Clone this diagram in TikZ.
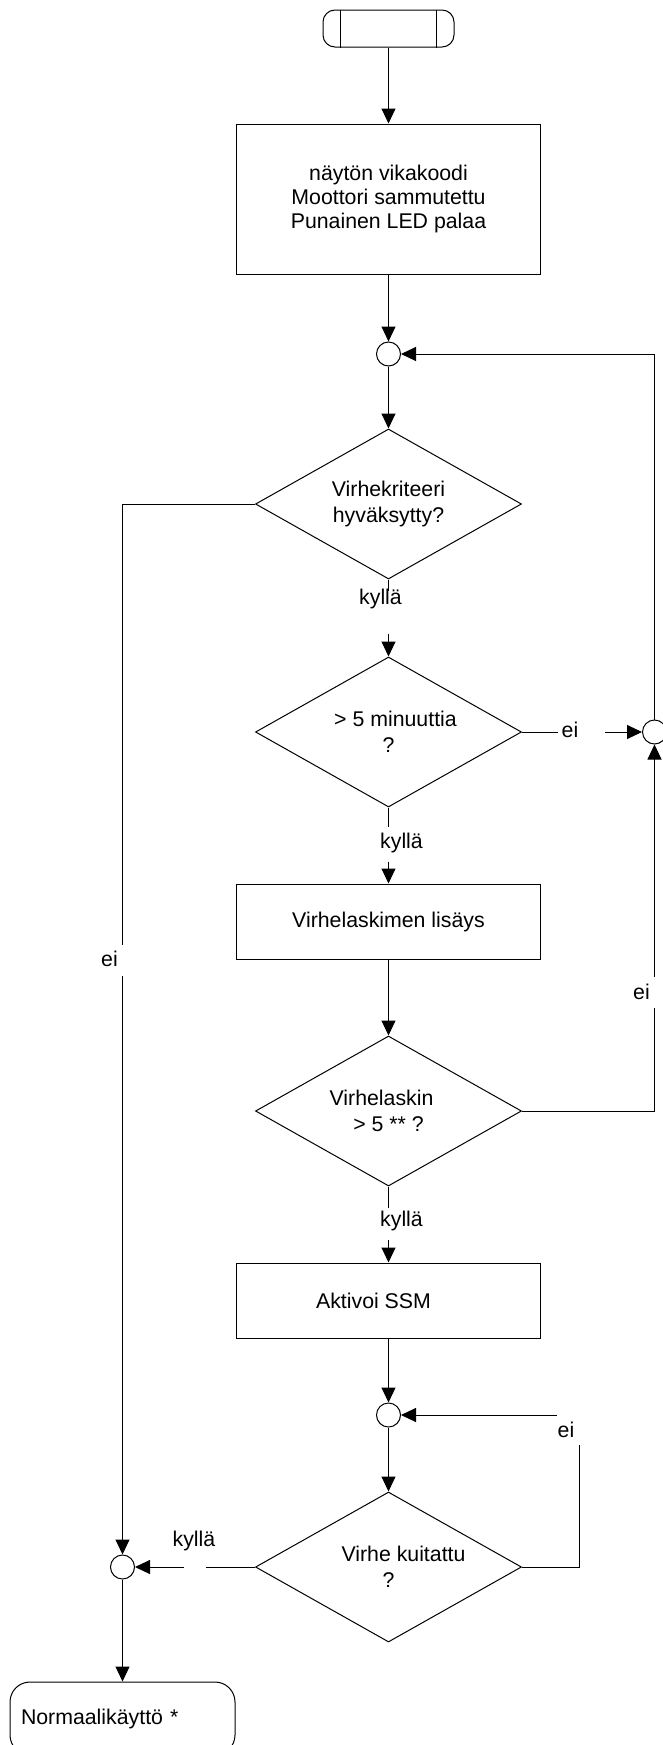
\documentclass[tikz,border=0pt]{standalone}
\usepackage{fontspec}
\setmainfont{Liberation Sans}
\usetikzlibrary{positioning, shapes.geometric, arrows.meta}

\begin{document}
\begin{tikzpicture}[
    line width=0.5pt,
    font=\fontsize{10.65pt}{12pt}\selectfont,
    terminal/.style={
        draw,
        rectangle,
        rounded corners=6pt,
        minimum width=65.5pt,
        minimum height=18.5pt,
        inner sep=0pt
    },
    endterminal/.style={
        draw,
        rectangle,
        rounded corners=10pt,
        minimum width=112.5pt,
        minimum height=36.5pt,
        inner xsep=5.5pt,
        text width=101.5pt,
        align=left
    },
    process/.style={
        draw,
        rectangle,
        minimum width=152pt,
        minimum height=37.5pt,
        align=center
    },
    decision/.style={
        draw,
        diamond,
        aspect=1.77,
        minimum width=133pt,
        minimum height=75pt,
        inner sep=0pt,
        align=center,
        font=\fontsize{10.65pt}{13pt}\selectfont
    },
    junction/.style={
        draw,
        circle,
        minimum size=12pt,
        inner sep=0pt
    },
    lbl/.style={inner sep=0pt},
    arrow/.style={-{Triangle[length=7.5pt, width=7pt]}},
    node distance=38pt
]
\useasboundingbox (0,0) rectangle (331.5pt,-872.5pt);

% Main column
\node[terminal] (start) at (194.25pt,-14.25pt) {};
\node[process, minimum height=75pt, below=of start] (display) {%
    näytön vikakoodi\\
    Moottori sammutettu\\
    Punainen LED palaa
};
\node[junction, below=33.5pt of display] (join1) {};
\node[decision, below=31pt of join1] (criteria) {Virhekriteeri\\hyväksytty?};
\node[decision, below=38.5pt of criteria] (minutes) {\hspace*{7pt}> 5 minuuttia\\?};
\node[process, below=of minutes] (increment) {Virhelaskimen lisäys};
\node[decision, below=of increment] (counter) {Virhelaskin\hspace*{7pt}\\> 5 ** ?};
\node[process, below=of counter] (ssm) {Aktivoi SSM\hspace*{15pt}};
\node[junction, below=32pt of ssm] (join3) {};
\node[decision, below=32pt of join3] (ack) {\hspace*{15pt}Virhe kuitattu\\?};

% Side junctions and end
\node[junction, right=60pt of minutes] (join2) {};
\node[junction, left=60pt of ack] (join4) {};
\node[endterminal, below=51pt of join4] (normal) {Normaalikäyttö *};

% Start symbol inner lines
\draw ([xshift=9pt]start.north west) -- ([xshift=9pt]start.south west);
\draw ([xshift=-9pt]start.north east) -- ([xshift=-9pt]start.south east);

% Straight connectors
\draw[arrow] (start) -- (display);
\draw[arrow] (display) -- (join1);
\draw[arrow] (join1) -- (criteria);
\draw[arrow] (increment) -- (counter);
\draw[arrow] (ssm) -- (join3);
\draw[arrow] (join3) -- (ack);
\draw[arrow] (join4) -- (normal);
\draw[arrow] (join2.north) |- (join1.east);

% kyllä branches
\node[lbl] (yes1) at ([xshift=-4pt, yshift=-9.5pt]criteria.south) {kyllä};
\coordinate (yes1a) at ([yshift=-5.5pt]criteria.south);
\coordinate (yes1b) at ([yshift=11.5pt]minutes.north);
\draw (criteria.south) -- (yes1a);
\draw[arrow] (yes1b) -- (minutes.north);

\node[lbl] (yes2) at ([xshift=6.5pt, yshift=-17.5pt]minutes.south) {kyllä};
\coordinate (yes2a) at ([yshift=-9.5pt]minutes.south);
\coordinate (yes2b) at ([yshift=11pt]increment.north);
\draw (minutes.south) -- (yes2a);
\draw[arrow] (yes2b) -- (increment.north);

\node[lbl] (yes3) at ([xshift=6.5pt, yshift=-17pt]counter.south) {kyllä};
\coordinate (yes3a) at ([yshift=-10.5pt]counter.south);
\coordinate (yes3b) at ([yshift=11.5pt]ssm.north);
\draw (counter.south) -- (yes3a);
\draw[arrow] (yes3b) -- (ssm.north);

\node[lbl] (yes4) at ([xshift=-30.5pt, yshift=13pt]ack.west) {kyllä};
\coordinate (yes4a) at ([xshift=-24.5pt]ack.west);
\coordinate (yes4b) at ([xshift=24.5pt]join4.east);
\draw (ack.west) -- (yes4a);
\draw[arrow] (yes4b) -- (join4.east);

% ei branches
\node[lbl] (no1) at ([xshift=24pt, yshift=1pt]minutes.east) {ei};
\coordinate (no1a) at ([xshift=18pt]minutes.east);
\coordinate (no1b) at ([xshift=-18.5pt]join2.west);
\draw (minutes.east) -- (no1a);
\draw[arrow] (no1b) -- (join2.west);

\node[lbl] (no2) at ([xshift=-6.5pt, yshift=-123.5pt]join2.south) {ei};
\coordinate (no2a) at ([yshift=-131.5pt]join2.south);
\coordinate (no2b) at ([yshift=-116pt]join2.south);
\draw (counter.east) -| (no2a);
\draw[arrow] (no2b) -- (join2.south);

\node[lbl] (no3) at ([xshift=82.5pt, yshift=-7.5pt]join3.east) {ei};
\coordinate (no3a) at ([xshift=89pt, yshift=-15pt]join3.east);
\coordinate (no3b) at ([xshift=78pt]join3.east);
\draw (ack.east) -| (no3a);
\draw[arrow] (no3b) -- (join3.east);

\coordinate (no4k) at (join4 |- criteria.west);
\node[lbl] (no4) at ([xshift=-6.5pt, yshift=-227.5pt]no4k) {ei};
\coordinate (no4a) at ([yshift=-220.5pt]no4k);
\coordinate (no4b) at ([yshift=-236pt]no4k);
\draw (criteria.west) -- (no4k) -- (no4a);
\draw[arrow] (no4b) -- (join4.north);

\end{tikzpicture}
\end{document}
